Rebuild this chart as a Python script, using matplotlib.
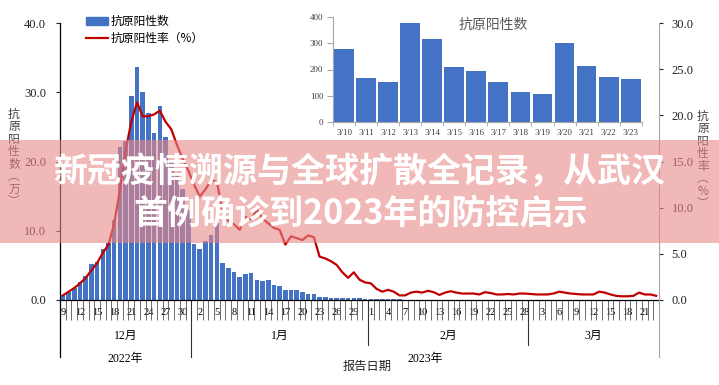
import matplotlib.pyplot as plt
import numpy as np
import pandas as pd
from matplotlib.lines import Line2D
from matplotlib.patches import Patch, Rectangle

plt.rcParams['font.family'] = ['Liberation Serif', 'Noto Sans CJK SC']

# daily antigen positives (万) and positive rate (%) from 2022-12-09 to 2023-03-23
dates = pd.date_range('2022-12-09', '2023-03-23')
positives = [
    0.7, 1.2, 1.7, 2.6, 3.4, 5.2, 5.5, 7.4, 8.2, 11.5, 22.1, 23.0, 29.5, 33.7, 30.0, 27.0,
    24.1, 28.0, 23.5, 20.0, 18.0, 16.0, 13.0,
    8.1, 7.4, 8.5, 9.4, 11.1, 5.3, 4.6, 4.0, 3.3, 3.7, 3.9, 2.9, 2.7, 2.9, 2.1, 2.0,
    1.5, 1.5, 1.4, 1.1, 0.9, 0.9, 0.5, 0.5, 0.35, 0.35, 0.3, 0.3, 0.3, 0.25, 0.2,
    0.12, 0.1, 0.1, 0.09, 0.08, 0.08, 0.07, 0.07, 0.06, 0.06, 0.06, 0.05, 0.05, 0.05,
    0.05, 0.04, 0.04, 0.04, 0.04, 0.04, 0.03, 0.03, 0.03, 0.03, 0.03, 0.03, 0.03, 0.03,
    0.03, 0.03, 0.03, 0.025, 0.025, 0.03, 0.03, 0.025, 0.025,
    0.028, 0.017, 0.015, 0.038, 0.032, 0.021, 0.019, 0.015, 0.011, 0.011, 0.03, 0.021,
    0.017, 0.016,
]
rate = [
    0.5, 0.9, 1.3, 1.8, 2.4, 3.2, 4.0, 5.1, 6.0, 8.3, 11.9, 16.2, 19.3, 21.4, 19.9, 19.9,
    20.1, 20.5, 19.3, 18.5, 16.8, 15.3, 14.0,
    12.5, 11.2, 12.0, 13.0, 12.8, 9.6, 8.6, 8.2, 7.6, 9.0, 8.7, 9.8, 8.8, 8.3, 7.8, 7.6,
    6.0, 6.9, 6.7, 6.5, 7.0, 6.8, 4.7, 4.5, 4.2, 3.8, 3.0, 2.4, 3.0, 2.2, 1.9,
    1.8, 1.2, 0.9, 1.1, 0.9, 0.5, 0.5, 0.8, 0.9, 0.8, 1.0, 0.85, 0.55, 0.8, 0.95, 0.8,
    0.7, 0.7, 0.7, 0.6, 0.85, 0.75, 0.6, 0.6, 0.65, 0.6, 0.7, 0.7,
    0.65, 0.6, 0.6, 0.6, 0.7, 0.9, 0.8, 0.7, 0.65, 0.6, 0.6, 0.6, 0.9, 0.8, 0.6, 0.45,
    0.4, 0.4, 0.45, 0.8, 0.6, 0.6, 0.45,
]

# inset: March daily positives (人)
inset_days = ['3/10', '3/11', '3/12', '3/13', '3/14', '3/15', '3/16', '3/17',
              '3/18', '3/19', '3/20', '3/21', '3/22', '3/23']
inset_counts = [278, 168, 152, 375, 316, 208, 194, 153, 114, 108, 299, 213, 170, 164]

title = ['新冠疫情溯源与全球扩散全记录，从武汉', '首例确诊到2023年的防控启示']

BLUE = '#4472C4'
RED = '#C00000'
CJK = 'Noto Sans CJK SC'

fig = plt.figure(figsize=(7.19, 3.85), dpi=100)
ax = fig.add_axes([60 / 719, 1 - 300 / 385, 599 / 719, 277 / 385])
x = np.arange(len(dates))
ax.bar(x, positives, width=0.8, color=BLUE, zorder=2)
ax.set_xlim(-0.5, len(dates) - 0.5)
ax.set_ylim(0, 40)
ax.set_yticks(np.arange(0, 41, 10))
ax.set_yticklabels([f'{v:.1f}' for v in np.arange(0, 41, 10)])
ax.tick_params(axis='y', length=3, pad=7, labelsize=9, colors='#222222')
for s in ['top', 'right']:
    ax.spines[s].set_visible(False)
ax.spines['left'].set_bounds(-8.25, 40)
ax.spines['left'].set_linewidth(0.9)
ax.spines['bottom'].set_linewidth(0.9)

# day ticks
lab_idx = x[::3]
ax.set_xticks(lab_idx)
ax.set_xticklabels([str(d.day) for d in dates[::3]])
ax.set_xticks(np.arange(-0.5, len(dates), 1), minor=True)
ax.tick_params(axis='x', which='major', length=0, pad=6, labelsize=7.5)
ax.tick_params(axis='x', which='minor', length=14.5, width=0.6, color='#555555')

# month / year grouping
tr = ax.get_xaxis_transform()
months = dates.to_period('M')
bounds = [-0.5] + [i - 0.5 for i in range(1, len(dates)) if months[i] != months[i - 1]] + [len(dates) - 0.5]
for b in bounds[1:-1]:
    i0 = int(b + 0.5)
    low = -0.206 if dates[i0].year != dates[i0 - 1].year else -0.1625
    ax.plot([b, b], [0, low], transform=tr, clip_on=False, color='#333333', lw=0.8)
for a, b in zip(bounds[:-1], bounds[1:]):
    m = dates[int(a + 0.5)].month
    ax.text((a + b) / 2, -0.13, f'{m}月', transform=tr, ha='center', va='center', fontsize=8.5)
years = dates.year
for yv in sorted(set(years)):
    idx = np.where(years == yv)[0]
    ax.text((idx[0] + idx[-1]) / 2, -0.213, f'{yv}年', transform=tr,
            ha='center', va='center', fontsize=8.5)
ax.text(0.512, -0.238, '报告日期', transform=ax.transAxes, ha='center', va='center',
        fontsize=8.8, family=CJK, color='#222222')

ax2 = ax.twinx()
ax2.plot(x, rate, color=RED, lw=1.6, zorder=3)
ax2.set_ylim(0, 30)
ax2.set_yticks(np.arange(0, 31, 5))
ax2.set_yticklabels([f'{v:.1f}' for v in np.arange(0, 31, 5)])
ax2.tick_params(axis='y', length=3, pad=6, labelsize=9, colors='#222222')
for s in ['top', 'left', 'bottom']:
    ax2.spines[s].set_visible(False)
ax2.spines['right'].set_color('#a6a6a6')
ax2.spines['right'].set_bounds(-6.2, 30)

# axis titles, stacked vertically
fig.text(14 / 719, 1 - 158 / 385, '\n'.join('抗原阳性数︵万︶'), ha='center', va='center',
         fontsize=8.5, linespacing=0.95, color='#404040', family=CJK)
fig.text(703 / 719, 1 - 160 / 385, '\n'.join('抗原阳性率︵%︶'), ha='center', va='center',
         fontsize=8.5, linespacing=0.95, color='#404040', family=CJK)

fig.legend(handles=[Patch(color=BLUE), Line2D([], [], color=RED, lw=1.6)],
           labels=['抗原阳性数', '抗原阳性率（%）'], loc='upper left',
           bbox_to_anchor=(86 / 719, 1 - 15 / 385), frameon=False,
           handlelength=1.9, handleheight=0.7, handletextpad=0.15, labelspacing=0.35,
           borderpad=0, borderaxespad=0, prop={'family': CJK, 'size': 8.5})

# inset
axi = fig.add_axes([333 / 719, 1 - 122.3 / 385, 308.7 / 719, 105.6 / 385])
axi.bar(np.arange(len(inset_days)), inset_counts, width=0.9, color=BLUE)
axi.set_xlim(-0.5, len(inset_days) - 0.5)
axi.set_ylim(0, 400)
axi.set_yticks(np.arange(0, 401, 100))
axi.set_xticks(np.arange(len(inset_days)))
axi.set_xticklabels(inset_days)
axi.set_xticks(np.arange(-0.5, len(inset_days), 1), minor=True)
axi.tick_params(axis='x', which='major', length=0, pad=5, labelsize=6.5, colors='#404040')
axi.tick_params(axis='x', which='minor', length=3, color='#a6a6a6')
axi.tick_params(axis='y', length=4, pad=3, labelsize=6.5, colors='#404040')
axi.tick_params(axis='y', color='#a6a6a6')
for s in ['top', 'right']:
    axi.spines[s].set_visible(False)
for s in ['left', 'bottom']:
    axi.spines[s].set_color('#a6a6a6')
axi.text(0.518, 0.92, '抗原阳性数', transform=axi.transAxes, ha='center', va='center',
         fontsize=10, color='#595959', family=CJK)

# title banner
fig.add_artist(Rectangle((0, 1 - 243 / 385), 1, 103 / 385, transform=fig.transFigure,
                         facecolor='#E98989', alpha=0.6, lw=0, zorder=10))
fig.text(0.5, 1 - 172 / 385, title[0], ha='center', va='center', color='white',
         fontsize=24.5, fontweight='bold', family=CJK, zorder=11)
fig.text(0.502, 1 - 213 / 385, title[1], ha='center', va='center', color='white',
         fontsize=24.5, fontweight='bold', family=CJK, zorder=11)

fig.savefig('out.png', dpi=100)
